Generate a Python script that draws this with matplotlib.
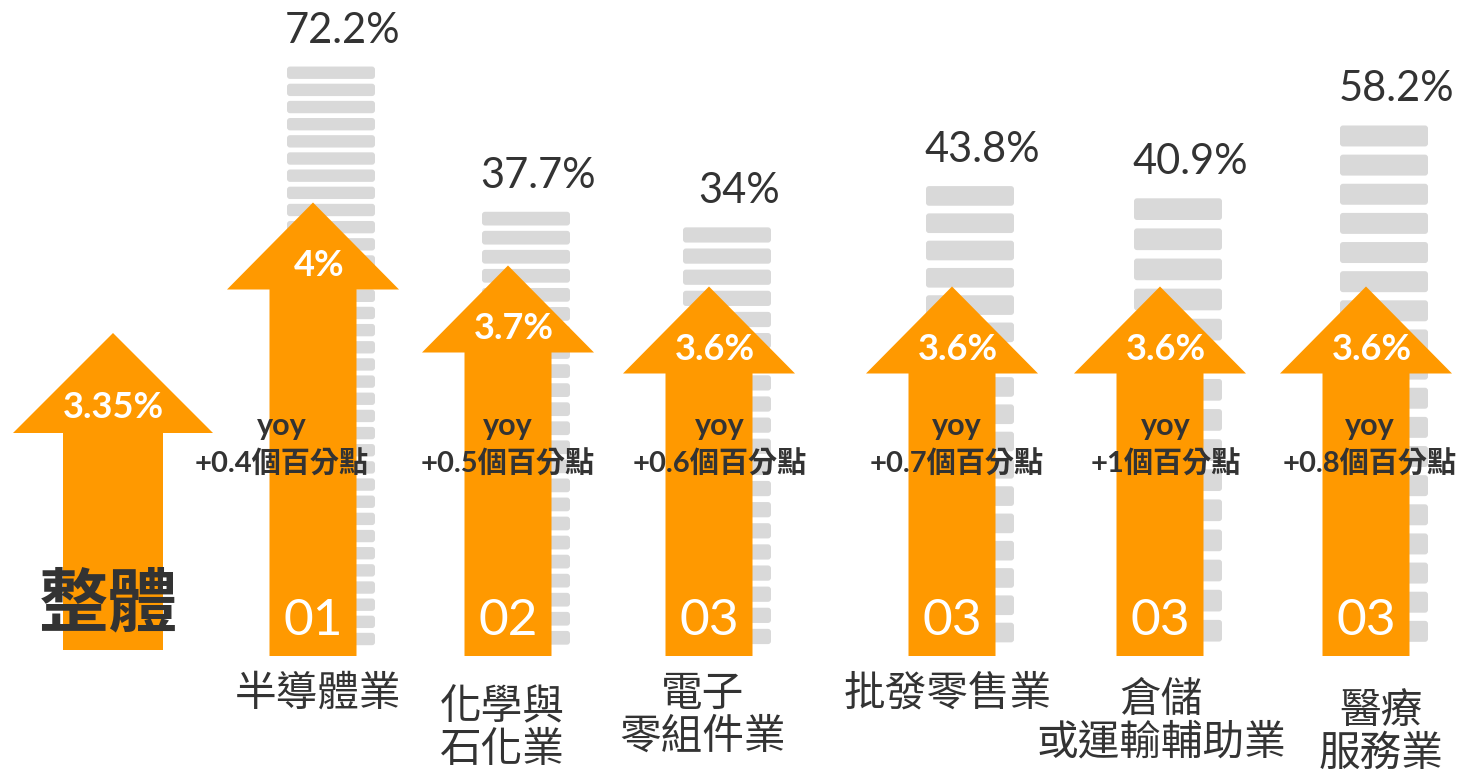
import matplotlib.pyplot as plt
from matplotlib.patches import Polygon, FancyBboxPatch

# data
industries = ['半導體業', '化學與\n石化業', '電子\n零組件業', '批發零售業', '倉儲\n或運輸輔助業', '醫療\n服務業']
ranks = ['01', '02', '03', '03', '03', '03']
growth = [4.0, 3.7, 3.6, 3.6, 3.6, 3.6]
yoy_pts = ['+0.4', '+0.5', '+0.6', '+0.7', '+1', '+0.8']
share = [72.2, 37.7, 34.0, 43.8, 40.9, 58.2]
overall_label = '整體'
overall_growth = 3.35

# layout (pixels)
W, H = 1469, 777
centers = [313, 508, 709, 952, 1160, 1366]
yoy_x = [282, 508, 720, 957, 1166, 1370]
cat_x = [318, 502, 703, 948, 1161, 1381]
cat_y = [694, 729, 716, 694, 722, 733]
seg_counts = [34, 23, 20, 17, 15, 18]
arrow_base = 656
gray_base = 650

ORANGE = '#ff9900'
GRAY = '#d9d9d9'
DARK = '#333333'
FONT = ['Lato', 'Noto Sans CJK TC', 'DejaVu Sans']
CJK = ['Noto Sans CJK TC', 'DejaVu Sans']


def arrow_height(v):
    # growth value -> arrow length in pixels
    return 317 + 210 * (v - 3.35)


def gray_height(p):
    # share value -> grey column height in pixels
    return 279.5 + 4.21 * p


def draw_arrow(ax, cx, base, h, shaft, head, head_h):
    tip = base - h
    hb = tip + head_h
    pts = [(cx - shaft, base), (cx - shaft, hb), (cx - head, hb), (cx, tip),
           (cx + head, hb), (cx + shaft, hb), (cx + shaft, base)]
    ax.add_patch(Polygon(pts, closed=True, fc=ORANGE, ec='none', zorder=3))
    return hb


fig = plt.figure(figsize=(W / 100, H / 100), dpi=100)
ax = fig.add_axes([0, 0, 1, 1])
ax.set_xlim(0, W)
ax.set_ylim(H, 0)
ax.axis('off')

# grey stacked columns + share labels
for i, p in enumerate(share):
    gx = centers[i] + 18
    top = gray_base - gray_height(p)
    n = seg_counts[i]
    step = (gray_base - top) / n
    sh = step * 0.72
    for k in range(n):
        y0 = top + k * step
        ax.add_patch(FancyBboxPatch((gx - 44, y0), 88, sh,
                                    boxstyle='round,pad=0,rounding_size=3',
                                    fc=GRAY, ec='none', zorder=2))
    ax.text(gx + 12, top - 36, f'{p:g}%', ha='center', va='center',
            fontsize=30, color=DARK, family=FONT, zorder=5)

# overall arrow
hb = draw_arrow(ax, 113, 650, arrow_height(overall_growth), 50, 100, 100)
ax.text(113, hb - 26, f'{overall_growth:g}%', ha='center', va='center',
        fontsize=26, color='white', fontweight='bold', family=FONT, zorder=5)
ax.text(108, 605, overall_label, ha='center', va='center', fontsize=50,
        color=DARK, fontweight='bold', family=CJK, zorder=5)

# industry arrows
for i, v in enumerate(growth):
    cx = centers[i]
    hb = draw_arrow(ax, cx, arrow_base, arrow_height(v), 43.5, 86, 87)
    ax.text(cx + 6, hb - 24, f'{v:g}%', ha='center', va='center',
            fontsize=26, color='white', fontweight='bold', family=FONT, zorder=5)
    ax.text(yoy_x[i], 426, 'yoy', ha='center', va='center', fontsize=22,
            color=DARK, fontweight='bold', family=FONT, zorder=5)
    ax.text(yoy_x[i], 464, yoy_pts[i] + '個百分點', ha='center', va='center',
            fontsize=21, color=DARK, fontweight='bold', family=FONT, zorder=5)
    ax.text(cx, arrow_base - 35, ranks[i], ha='center', va='center',
            fontsize=37, color='white', family=FONT, zorder=5)
    ax.text(cat_x[i], cat_y[i], industries[i], ha='center', va='center',
            fontsize=30, color=DARK, family=CJK, linespacing=1.05, zorder=5)

fig.savefig('out.png', dpi=100)
